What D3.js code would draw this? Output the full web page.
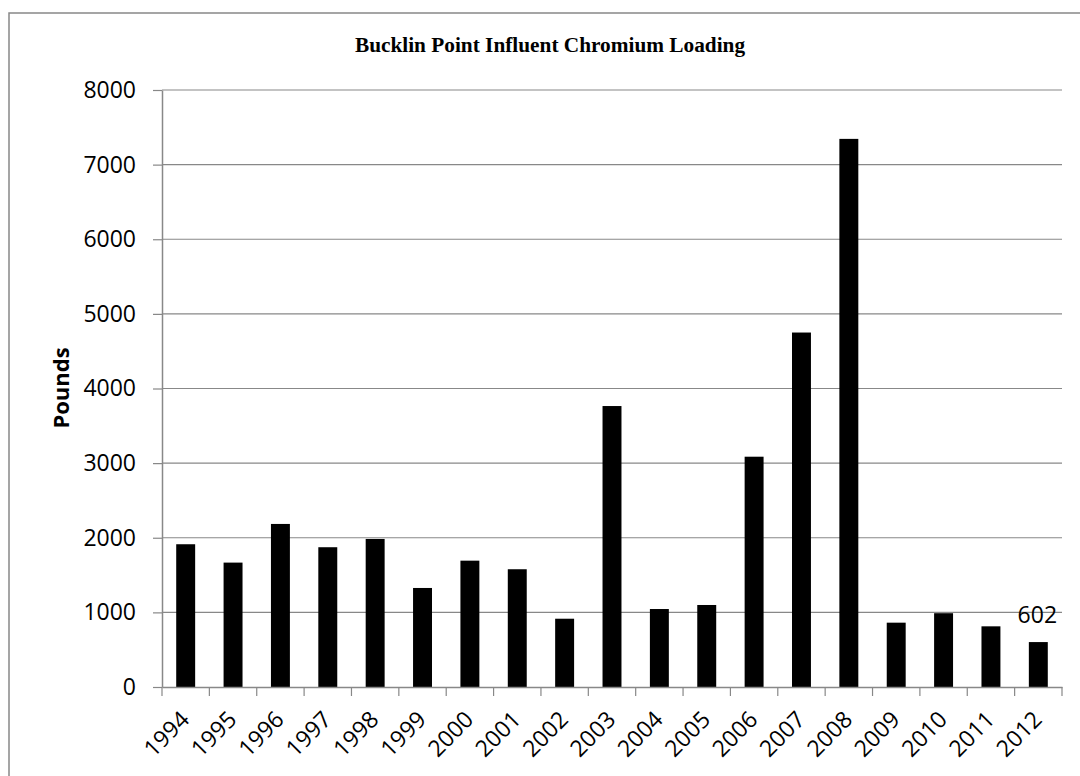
<!DOCTYPE html>
<html>
<head>
<meta charset="utf-8">
<script src="https://cdn.jsdelivr.net/npm/d3@7"></script>
<style>
  body { margin: 0; background: #fff; }
  svg { display: block; }
</style>
</head>
<body>
<script>
var years  = ['1994','1995','1996','1997','1998','1999','2000','2001','2002','2003',
              '2004','2005','2006','2007','2008','2009','2010','2011','2012'];
var pounds = [1913, 1667, 2185, 1873, 1984, 1327, 1693, 1578, 915, 3765,
              1045, 1099, 3086, 4750, 7345, 862, 989, 813, 602];
var yTicks = [0, 1000, 2000, 3000, 4000, 5000, 6000, 7000, 8000];
var title  = 'Bucklin Point Influent Chromium Loading';

var svg = d3.select('body').append('svg')
            .attr('width', 1080)
            .attr('height', 776);

var plotLeft = 162, plotRight = 1062, plotTop = 90, plotBottom = 687;

// outer chart frame
svg.append('rect')
   .attr('x', 9).attr('y', 13)
   .attr('width', 1100).attr('height', 800)
   .attr('fill', 'none')
   .attr('stroke', '#888')
   .attr('stroke-width', 1.5);

var x = d3.scaleBand().domain(years).range([plotLeft, plotRight]);
var y = d3.scaleLinear().domain([0, 8000]).range([plotBottom, plotTop]);
var barW = x.bandwidth() / 2.5;

// gridlines
svg.selectAll('line.grid').data(yTicks.slice(1)).enter().append('line')
   .attr('class', 'grid')
   .attr('x1', plotLeft).attr('x2', plotRight)
   .attr('y1', function(d){ return y(d); })
   .attr('y2', function(d){ return y(d); })
   .attr('stroke', '#888').attr('stroke-width', 1.2);

// bars
svg.selectAll('rect.bar').data(pounds).enter().append('rect')
   .attr('class', 'bar')
   .attr('x', function(d, i){ return x(years[i]) + (x.bandwidth() - barW) / 2; })
   .attr('width', barW)
   .attr('y', function(d){ return y(d); })
   .attr('height', function(d){ return y(0) - y(d); })
   .attr('fill', '#000');

// y axis
var yAxis = svg.append('g')
   .attr('transform', 'translate(' + plotLeft + ',0)')
   .call(d3.axisLeft(y).tickValues(yTicks).tickSize(9).tickSizeOuter(0).tickPadding(17).tickFormat(d3.format('d')));
yAxis.select('.domain').attr('stroke', '#888').attr('stroke-width', 1.5);
yAxis.selectAll('.tick line').attr('stroke', '#888').attr('stroke-width', 1.2);
yAxis.selectAll('.tick text')
   .attr('font-family', 'Open Sans')
   .attr('font-size', 23)
   .attr('fill', '#000');

// x axis
var xAxis = svg.append('g')
   .attr('transform', 'translate(0,' + plotBottom + ')')
   .call(d3.axisBottom(x).tickSize(0).tickSizeOuter(0).tickFormat(''));
xAxis.select('.domain').attr('stroke', '#888').attr('stroke-width', 1.5);

var xTickPos = years.map(function(d){ return x(d); }).concat([plotRight]);
svg.selectAll('line.xtick').data(xTickPos).enter().append('line')
   .attr('class', 'xtick')
   .attr('x1', function(d){ return d; }).attr('x2', function(d){ return d; })
   .attr('y1', plotBottom).attr('y2', plotBottom + 9)
   .attr('stroke', '#888').attr('stroke-width', 1.2);

svg.selectAll('text.xlab').data(years).enter().append('text')
   .attr('class', 'xlab')
   .attr('transform', function(d){
     return 'translate(' + (x(d) + x.bandwidth() / 2 + 5) + ',' + (plotBottom + 34) + ') rotate(-45)';
   })
   .attr('text-anchor', 'end')
   .attr('font-family', 'Open Sans')
   .attr('font-size', 23)
   .text(function(d){ return d; });

// data label on the last bar
var last = years.length - 1;
svg.append('text')
   .attr('x', x(years[last]) + x.bandwidth() / 2 - 1)
   .attr('y', y(pounds[last]) - 19)
   .attr('text-anchor', 'middle')
   .attr('font-family', 'Open Sans')
   .attr('font-size', 23)
   .text(pounds[last]);

// title
svg.append('text')
   .attr('x', 550).attr('y', 52)
   .attr('text-anchor', 'middle')
   .attr('font-family', 'Liberation Serif')
   .attr('font-weight', 'bold')
   .attr('font-size', 21.3)
   .text(title);

// y axis title
svg.append('text')
   .attr('transform', 'translate(69,388) rotate(-90)')
   .attr('text-anchor', 'middle')
   .attr('font-family', 'Open Sans')
   .attr('font-weight', 'bold')
   .attr('font-size', 22)
   .text('Pounds');
</script>
</body>
</html>
